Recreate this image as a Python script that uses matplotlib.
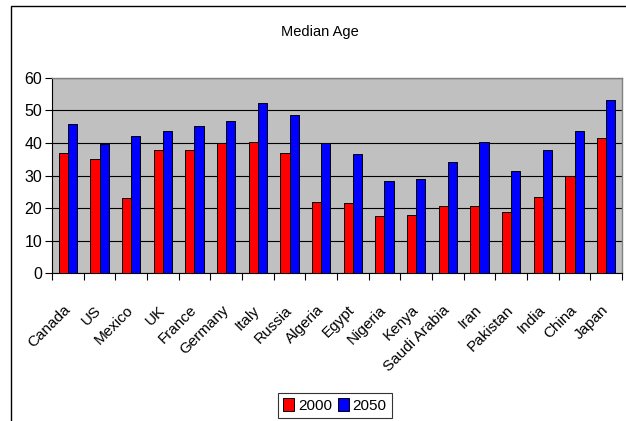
import matplotlib
matplotlib.use("Agg")
import matplotlib.pyplot as plt
import matplotlib.transforms as mtransforms
import numpy as np
from matplotlib.patches import Rectangle

plt.rcParams['font.family'] = ['Liberation Sans', 'DejaVu Sans']

countries = ["Canada", "US", "Mexico", "UK", "France", "Germany", "Italy", "Russia",
             "Algeria", "Egypt", "Nigeria", "Kenya", "Saudi Arabia", "Iran",
             "Pakistan", "India", "China", "Japan"]
age_2000 = [36.8, 35.2, 23.0, 37.7, 37.7, 40.0, 40.2, 36.8,
            21.7, 21.5, 17.4, 17.7, 20.6, 20.6, 18.7, 23.5, 30.0, 41.5]
age_2050 = [45.9, 39.7, 42.2, 43.7, 45.1, 46.7, 52.2, 48.5,
            40.1, 36.5, 28.4, 28.9, 34.2, 40.3, 31.5, 37.9, 43.8, 53.2]
series_labels = ["2000", "2050"]
yticks = [0, 10, 20, 30, 40, 50, 60]

W, H = 626, 421
fig = plt.figure(figsize=(W / 100, H / 100), dpi=100)
fig.patch.set_facecolor("white")

# outer chart border
fig.patches.append(Rectangle((11 / W, -0.1), 1.2, 1.1 - 6 / H, transform=fig.transFigure,
                             fill=False, edgecolor="black", linewidth=1.0))

ax = fig.add_axes([52 / W, 1 - 273 / H, (622 - 52) / W, (273 - 78) / H])
ax.set_facecolor("#C0C0C0")

n = len(countries)
x = np.arange(n)
bw = 0.293
ax.bar(x - bw / 2, age_2000, bw, color="#FF0000", edgecolor="black", linewidth=0.7,
       label=series_labels[0], zorder=3)
ax.bar(x + bw / 2, age_2050, bw, color="#0000FF", edgecolor="black", linewidth=0.7,
       label=series_labels[1], zorder=3)

ax.set_xlim(-0.5, n - 0.5)
ax.set_ylim(0, 60)
ax.set_yticks(yticks)
ax.set_yticklabels([str(t) for t in yticks], fontsize=11.5)
ax.yaxis.grid(True, color="black", linewidth=0.8, zorder=1)
ax.set_axisbelow(True)

ax.set_xticks(np.arange(n + 1) - 0.5)
ax.set_xticklabels([])
ax.set_xticks(x, minor=True)
ax.set_xticklabels(countries, minor=True, rotation=45, ha="right",
                   rotation_mode="anchor", fontsize=11)
ax.tick_params(axis="x", which="minor", length=0, pad=10)
ax.tick_params(axis="x", which="major", length=5, width=0.8, direction="out")
ax.tick_params(axis="y", length=5, width=0.8, direction="out", pad=2)

offset = mtransforms.ScaledTranslation(-5 / 100, -16 / 100, fig.dpi_scale_trans)
for lbl in ax.get_xticklabels(minor=True):
    lbl.set_transform(lbl.get_transform() + offset)

for s in ["top", "right"]:
    ax.spines[s].set_color("#808080")
    ax.spines[s].set_linewidth(1.0)
for s in ["left", "bottom"]:
    ax.spines[s].set_color("black")
    ax.spines[s].set_linewidth(0.8)

fig.text(320 / W, 1 - 32 / H, "Median Age", ha="center", va="center", fontsize=10.5)

leg = fig.legend(loc="center", bbox_to_anchor=(335 / W, 1 - 405.5 / H), ncol=2,
                 fontsize=11, frameon=True, fancybox=False, edgecolor="black",
                 handlelength=0.7, handleheight=0.9, handletextpad=0.25,
                 columnspacing=0.4, borderpad=0.35, borderaxespad=0)
leg.get_frame().set_linewidth(0.8)

fig.savefig("out.png", dpi=100)
